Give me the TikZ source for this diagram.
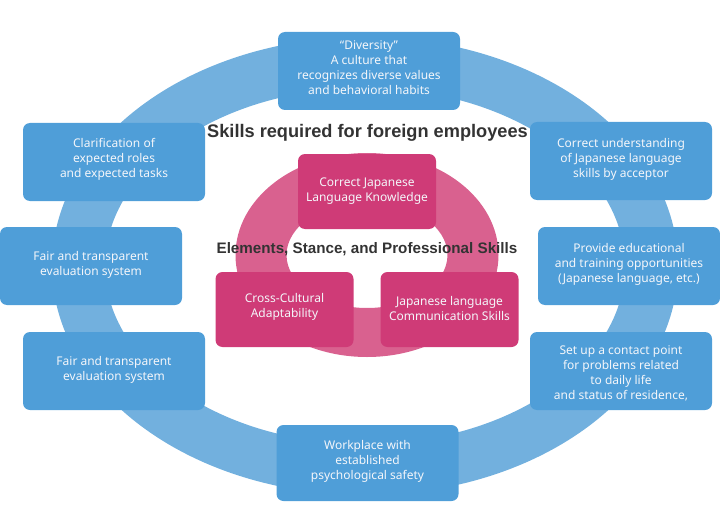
\documentclass[tikz,border=0pt]{standalone}
\usepackage{fontspec}
\setmainfont{Noto Sans}
\newfontfamily\titlefont{Liberation Sans}
\definecolor{ringblue}{HTML}{72B0DE}
\definecolor{boxblue}{HTML}{4F9ED8}
\definecolor{ringpink}{HTML}{D9618F}
\definecolor{boxpink}{HTML}{CF3B77}
\definecolor{titlegray}{HTML}{333333}
\definecolor{boxtext}{HTML}{F4F6FA}
\tikzset{
  bluebox/.style={fill=boxblue, rounded corners=7pt, minimum width=182, minimum height=78, inner sep=0pt},
  pinkbox/.style={fill=boxpink, rounded corners=7pt, minimum width=138, minimum height=75, inner sep=0pt},
  boxlabel/.style={text=boxtext, align=center, font=\fontsize{12}{15}\selectfont, inner sep=0pt},
  titletext/.style={text=titlegray, font=\titlefont\bfseries\fontsize{18.2}{21}\selectfont, inner sep=0pt},
  subtitletext/.style={text=titlegray, font=\titlefont\bfseries\fontsize{15.2}{18}\selectfont, inner sep=0pt}
}
\begin{document}
\begin{tikzpicture}[x=1pt,y=-1pt]
\useasboundingbox (0,0) rectangle (720,532);
% outer blue ring
\fill[ringblue, even odd rule] (365,266) ellipse [x radius=313, y radius=229]
  (365,266) ellipse [x radius=260, y radius=178];
% inner pink ring
\fill[ringpink, even odd rule] (367,255) ellipse [x radius=131.5, y radius=102]
  (367,255) ellipse [x radius=80.5, y radius=53];
% blue boxes
\node[bluebox, label={[boxlabel, yshift=3]center:{“Diversity”\\A culture that\\recognizes diverse values\\and behavioral habits}}] (diversity) at (369,71) {};
\node[bluebox, label={[boxlabel, yshift=3]center:{Clarification of\\expected roles\\and expected tasks}}] (clarify) at (114,162) {};
\node[bluebox, label={[boxlabel, yshift=1]center:{Fair and transparent\\evaluation system}}] (fairone) at (91,266) {};
\node[bluebox, label={[boxlabel, yshift=1]center:{Fair and transparent\\evaluation system}}] (fairtwo) at (114,371) {};
\node[bluebox, minimum height=76, label={[boxlabel, yshift=2]center:{Workplace with\\established\\psychological safety}}] (safety) at (367.5,463) {};
\node[bluebox, label={[boxlabel, yshift=2]center:{Correct understanding\\of Japanese language\\skills by acceptor}}] (understand) at (621,161) {};
\node[bluebox, label={[boxlabel, yshift=2]center:{Provide educational\\and training opportunities\\(Japanese language, etc.)}}] (training) at (629,266) {};
\node[bluebox, label={[boxlabel, yshift=-2]center:{Set up a contact point\\for problems related\\to daily life\\and status of residence,}}] (contact) at (621,371) {};
% titles
\node[titletext] (title) at (367.5,132.5) {Skills required for foreign employees};
\node[subtitletext] (subtitle) at (367,249.5) {Elements, Stance, and Professional Skills};
% pink boxes
\node[pinkbox, label={[boxlabel]center:{Correct Japanese\\Language Knowledge}}] (knowledge) at (367,191.5) {};
\node[pinkbox, label={[boxlabel, yshift=3]center:{Cross-Cultural\\Adaptability}}] (crosscult) at (284.5,309.5) {};
\node[pinkbox, label={[boxlabel, yshift=1]center:{Japanese language\\Communication Skills}}] (communic) at (449.5,309.5) {};
\end{tikzpicture}
\end{document}
